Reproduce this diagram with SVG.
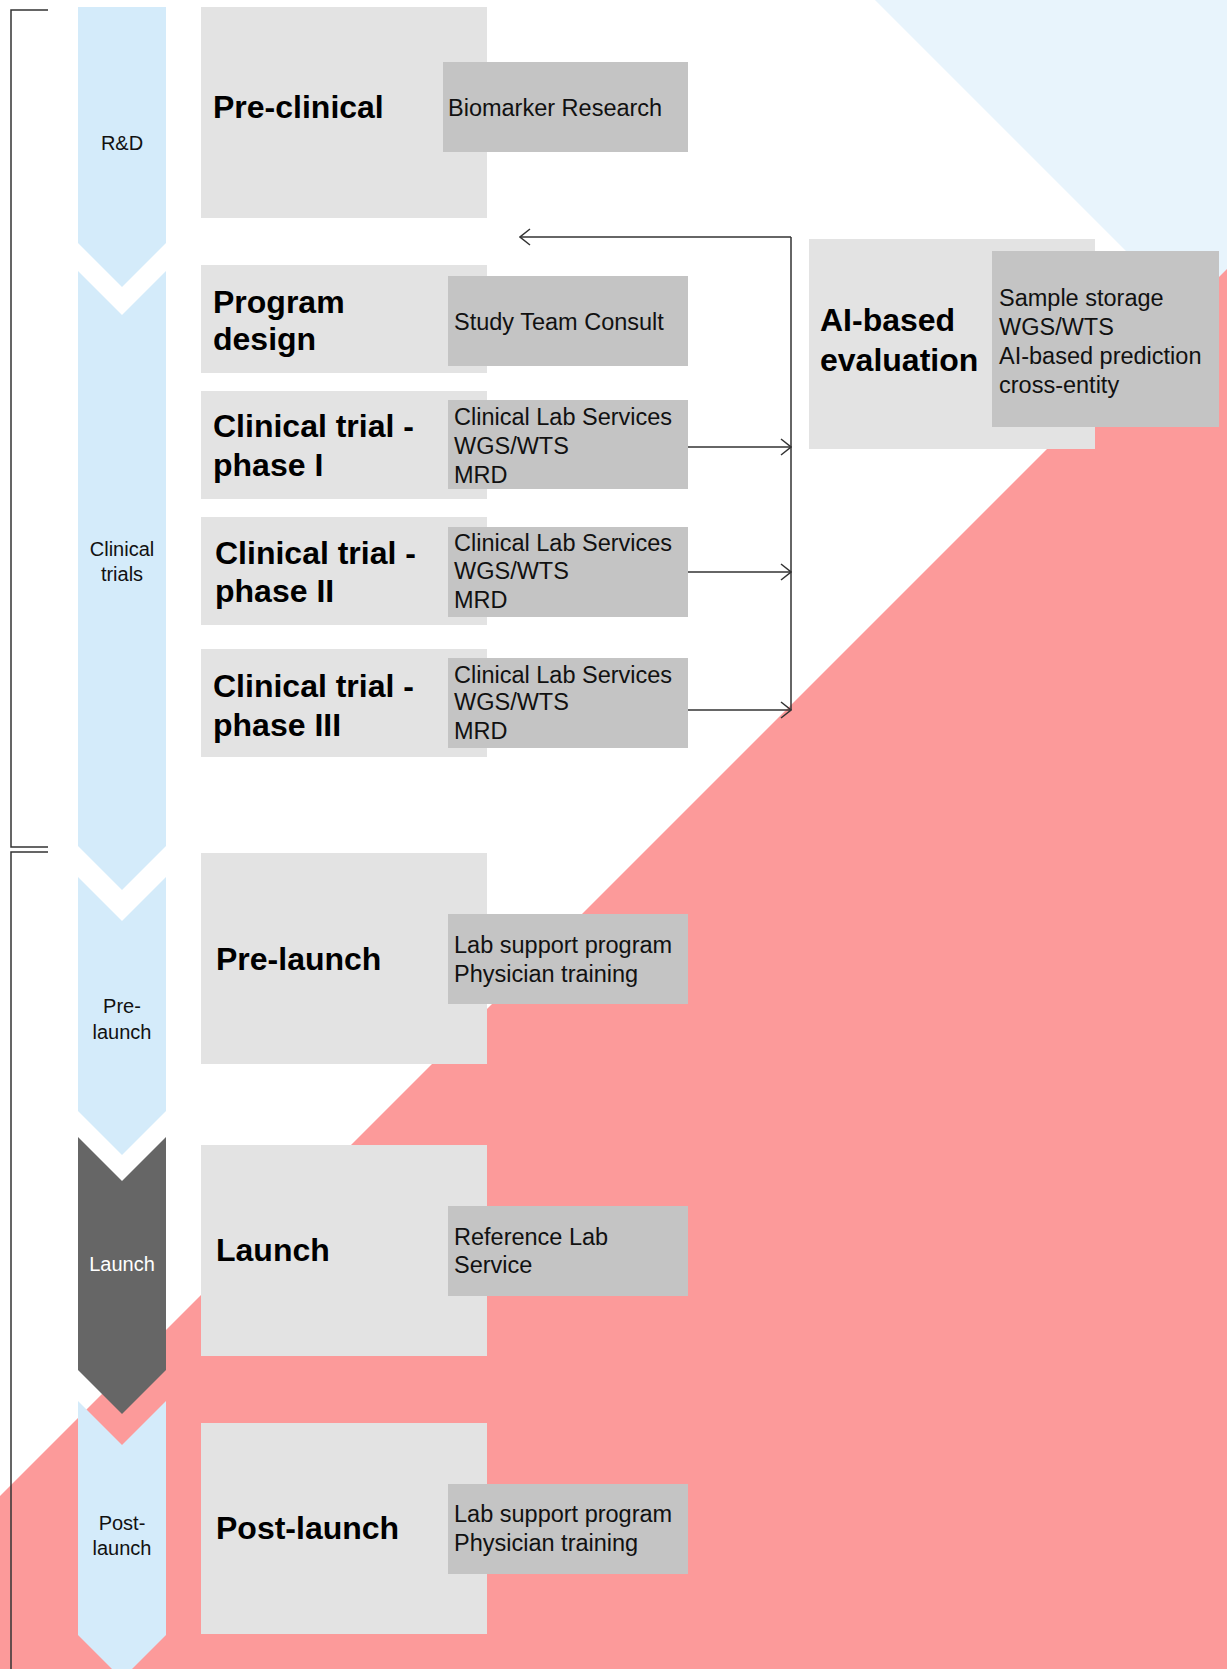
<svg xmlns="http://www.w3.org/2000/svg" width="1227" height="1669" viewBox="0 0 1227 1669">
<style>
.box{fill:#E3E3E3}
.lab{fill:#C4C4C4}
.chev{fill:#D4EBFA}
.h{font-family:"Liberation Sans",Arial,sans-serif;font-weight:bold;font-size:32px;fill:#000}
.t{font-family:"Liberation Sans",Arial,sans-serif;font-size:23.5px;fill:#111}
.s{font-family:"Liberation Sans",Arial,sans-serif;font-size:20px;fill:#111;text-anchor:middle}
.ln{fill:none;stroke:#333;stroke-width:1.5}
</style>
<defs>
<marker id="arr" viewBox="0 0 12 18" refX="11" refY="9" markerWidth="12" markerHeight="18" orient="auto" markerUnits="userSpaceOnUse">
<path d="M1,1 L11,9 L1,17" fill="none" stroke="#333" stroke-width="1.5"/>
</marker>
</defs>
<rect width="1227" height="1669" fill="#FFFFFF"/>
<polygon points="875,0 1227,0 1227,352" fill="#E8F4FC"/>
<polygon points="0,1496 1227,269 1227,1669 0,1669" fill="#FC9A9A"/>

<g id="brackets">
<path class="ln" d="M48,10 H11 V847 H48"/>
<path class="ln" d="M48,852 H11 V1669"/>
</g>

<g id="phase-rd"><polygon class="chev" points="78,7 166,7 166,243 122,287 78,243"/><text class="s" x="122" y="150">R&amp;D</text></g>
<g id="phase-clinical"><polygon class="chev" points="78,271 122,315 166,271 166,846 122,890 78,846"/><text class="s" x="122" y="556">Clinical</text><text class="s" x="122" y="581">trials</text></g>
<g id="phase-prelaunch"><polygon class="chev" points="78,877 122,921 166,877 166,1111 122,1155 78,1111"/><text class="s" x="122" y="1013">Pre-</text><text class="s" x="122" y="1039">launch</text></g>
<g id="phase-launch"><polygon points="78,1137 122,1181 166,1137 166,1370 122,1414 78,1370" fill="#666666"/><text class="s" x="122" y="1271" style="fill:#FFFFFF">Launch</text></g>
<g id="phase-postlaunch"><polygon class="chev" points="78,1401 122,1445 166,1401 166,1635 122,1679 78,1635"/><text class="s" x="122" y="1530">Post-</text><text class="s" x="122" y="1555">launch</text></g>

<g id="preclinical">
<rect class="box" x="201" y="7" width="286" height="211"/>
<text class="h" x="213" y="118">Pre-clinical</text>
<rect class="lab" x="443" y="62" width="245" height="90"/>
<text class="t" x="448" y="116">Biomarker Research</text>
</g>

<g id="program-design">
<rect class="box" x="201" y="265" width="286" height="108"/>
<text class="h" x="213" y="313">Program</text>
<text class="h" x="213" y="350">design</text>
<rect class="lab" x="448" y="276" width="240" height="90"/>
<text class="t" x="454" y="330">Study Team Consult</text>
</g>

<g id="phase1">
<rect class="box" x="201" y="391" width="286" height="108"/>
<text class="h" x="213" y="437">Clinical trial -</text>
<text class="h" x="213" y="476">phase I</text>
<rect class="lab" x="448" y="400" width="240" height="89"/>
<text class="t" x="454" y="425">Clinical Lab Services</text>
<text class="t" x="454" y="454">WGS/WTS</text>
<text class="t" x="454" y="483">MRD</text>
</g>

<g id="phase2">
<rect class="box" x="201" y="517" width="286" height="108"/>
<text class="h" x="215" y="564">Clinical trial -</text>
<text class="h" x="215" y="602">phase II</text>
<rect class="lab" x="448" y="527" width="240" height="90"/>
<text class="t" x="454" y="551">Clinical Lab Services</text>
<text class="t" x="454" y="579">WGS/WTS</text>
<text class="t" x="454" y="608">MRD</text>
</g>

<g id="phase3">
<rect class="box" x="201" y="649" width="286" height="108"/>
<text class="h" x="213" y="697">Clinical trial -</text>
<text class="h" x="213" y="736">phase III</text>
<rect class="lab" x="448" y="658" width="240" height="90"/>
<text class="t" x="454" y="683">Clinical Lab Services</text>
<text class="t" x="454" y="710">WGS/WTS</text>
<text class="t" x="454" y="739">MRD</text>
</g>

<g id="ai-evaluation">
<rect class="box" x="809" y="239" width="286" height="210"/>
<text class="h" x="820" y="331">AI-based</text>
<text class="h" x="820" y="371">evaluation</text>
<rect class="lab" x="992" y="251" width="227" height="176"/>
<text class="t" x="999" y="306">Sample storage</text>
<text class="t" x="999" y="335">WGS/WTS</text>
<text class="t" x="999" y="364">AI-based prediction</text>
<text class="t" x="999" y="393">cross-entity</text>
</g>

<g id="prelaunch">
<rect class="box" x="201" y="853" width="286" height="211"/>
<text class="h" x="216" y="970">Pre-launch</text>
<rect class="lab" x="448" y="914" width="240" height="90"/>
<text class="t" x="454" y="953">Lab support program</text>
<text class="t" x="454" y="982">Physician training</text>
</g>

<g id="launch">
<rect class="box" x="201" y="1145" width="286" height="211"/>
<text class="h" x="216" y="1261">Launch</text>
<rect class="lab" x="448" y="1206" width="240" height="90"/>
<text class="t" x="454" y="1245">Reference Lab</text>
<text class="t" x="454" y="1273">Service</text>
</g>

<g id="postlaunch">
<rect class="box" x="201" y="1423" width="286" height="211"/>
<text class="h" x="216" y="1539">Post-launch</text>
<rect class="lab" x="448" y="1484" width="240" height="90"/>
<text class="t" x="454" y="1522">Lab support program</text>
<text class="t" x="454" y="1551">Physician training</text>
</g>

<g id="connectors">
<path class="ln" d="M791,710 V237"/>
<path class="ln" d="M791,237 H520" marker-end="url(#arr)"/>
<path class="ln" d="M688,447 H791" marker-end="url(#arr)"/>
<path class="ln" d="M688,572 H791" marker-end="url(#arr)"/>
<path class="ln" d="M688,710 H791" marker-end="url(#arr)"/>
</g>
</svg>
